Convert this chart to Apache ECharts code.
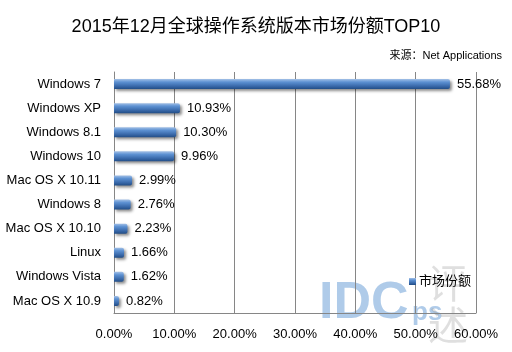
<!DOCTYPE html>
<html>
<head>
<meta charset="utf-8">
<script src="https://cdn.jsdelivr.net/npm/echarts@6/dist/echarts.min.js"></script>
<style>
  html, body { margin: 0; padding: 0; background: #fff; }
  #chart { width: 512px; height: 352px; }
</style>
</head>
<body>
<div id="chart"></div>
<script>
// categories from top to bottom
const systems = ['Windows 7', 'Windows XP', 'Windows 8.1', 'Windows 10', 'Mac OS X 10.11',
  'Windows 8', 'Mac OS X 10.10', 'Linux', 'Windows Vista', 'Mac OS X 10.9'];
const shares = [55.68, 10.93, 10.30, 9.96, 2.99, 2.76, 2.23, 1.66, 1.62, 0.82];
const seriesName = '市场份额';

const chart = echarts.init(document.getElementById('chart'));
const font = 'Arial, "Liberation Sans", "Noto Sans CJK SC", sans-serif';

const barColor = new echarts.graphic.LinearGradient(0, 0, 0, 1, [
  { offset: 0, color: '#a3c0e6' },
  { offset: 0.3, color: '#5d91d2' },
  { offset: 0.7, color: '#3a6aab' },
  { offset: 1, color: '#224d86' }
]);

chart.setOption({
  animation: false,
  textStyle: { fontFamily: font },
  title: [{
    text: '2015年12月全球操作系统版本市场份额TOP10',
    left: 'center', top: 13,
    textStyle: { fontSize: 18, fontWeight: 'normal', color: '#000', fontFamily: font }
  }, {
    text: '来源：Net Applications',
    right: 5, top: 45,
    textStyle: { fontSize: 11, fontWeight: 'normal', color: '#000', fontFamily: font }
  }],
  legend: {
    left: 404, top: 270,
    itemWidth: 7, itemHeight: 7, itemGap: 3,
    icon: 'rect',
    textStyle: { fontSize: 13, color: '#000', padding: [0, 0, 0, -2] },
    data: [seriesName]
  },
  grid: { left: 114, right: 36, top: 72, bottom: 39 },
  xAxis: {
    type: 'value', min: 0, max: 60, interval: 10,
    axisLine: { show: true, lineStyle: { color: '#868686' } },
    axisTick: { show: false },
    splitLine: { lineStyle: { color: '#868686' } },
    axisLabel: {
      color: '#000', fontSize: 13, margin: 15,
      formatter: v => v.toFixed(2) + '%'
    }
  },
  yAxis: {
    type: 'category', inverse: true, data: systems,
    axisLine: { show: true, lineStyle: { color: '#868686' } },
    axisTick: { show: false },
    axisLabel: { color: '#000', fontSize: 13, margin: 13 }
  },
  series: [{
    name: seriesName,
    type: 'bar',
    data: shares,
    barWidth: 10,
    itemStyle: {
      color: barColor,
      borderRadius: [0, 2, 2, 0],
      shadowColor: 'rgba(0,0,0,0.45)',
      shadowBlur: 3,
      shadowOffsetX: 2,
      shadowOffsetY: 2
    },
    label: {
      show: true, position: 'right', distance: 7,
      color: '#000', fontSize: 13,
      formatter: p => p.value.toFixed(2) + '%'
    }
  }],
  graphic: [{
    type: 'text', left: 319, top: 278, silent: true, z: 0,
    style: { text: 'IDC', font: 'bold 52px Arial, sans-serif', fill: 'rgba(110,160,215,0.55)' }
  }, {
    type: 'text', left: 412, top: 300, silent: true, z: 0,
    style: { text: 'ps', font: 'bold 26px Arial, sans-serif', fill: 'rgba(110,160,215,0.55)' }
  }, {
    type: 'text', left: 428, top: 262, silent: true, z: 0,
    style: { text: '评\n述', font: '40px "Noto Sans CJK SC", sans-serif', lineHeight: 42, fill: 'rgba(150,150,150,0.3)' }
  }]
});
</script>
</body>
</html>
